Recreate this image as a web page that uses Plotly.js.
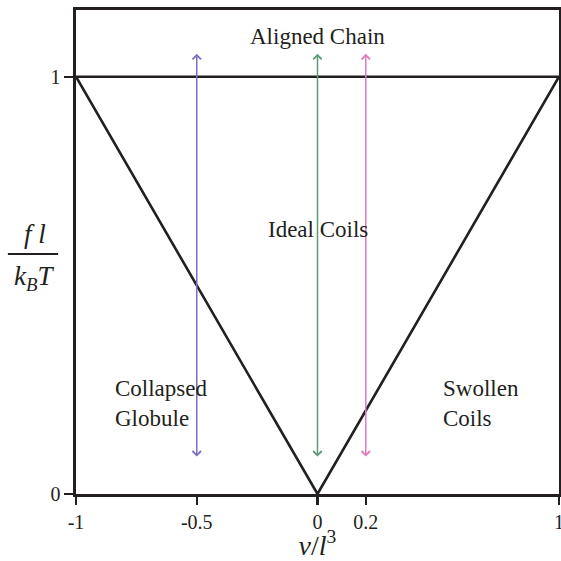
<!DOCTYPE html>
<html><head><meta charset="utf-8">
<script src="https://cdn.plot.ly/plotly-3.0.1.min.js"></script>
<style>html,body{margin:0;padding:0;background:#fff}</style>
</head><body>
<div id="chart" style="width:561px;height:561px"></div>
<script>
// Phase boundary (V shape + horizontal line at 1)
var boundaryX = [-1, 0, 1];
var boundaryY = [1, 0, 1];
var topLineX = [-1, 1];
var topLineY = [1, 1];
// Arrows
var arrowX = [-0.5, 0, 0.2];
var arrowYLow = [0.086, 0.086, 0.086];
var arrowYHigh = [1.055, 1.055, 1.055];
var arrowColors = ['#7a6fc0', '#5b9a72', '#e07ab9'];
// Region labels
var labelText = ['Aligned Chain', 'Ideal Coils', 'Collapsed<br>Globule', 'Swollen<br>Coils'];
var labelX = [0, 0, -0.847, 0.512];
var labelY = [1.096, 0.635, 0.218, 0.218];
var labelAnchor = ['center', 'center', 'left', 'left'];
// Ticks
var xTicks = [-1, -0.5, 0, 0.2, 1];
var xTickText = ['-1', '-0.5', '0', '0.2', '1'];
var yTicks = [0, 1];
var yTickText = ['0', '1'];

var font = 'Liberation Serif, Times New Roman, serif';
var black = '#231f20';

var traces = [
  {x: boundaryX, y: boundaryY, mode: 'lines', line: {color: black, width: 2.6}, hoverinfo: 'skip'},
  {x: topLineX, y: topLineY, mode: 'lines', line: {color: black, width: 2.6}, hoverinfo: 'skip'}
];

var annotations = [];
for (var i = 0; i < arrowX.length; i++) {
  annotations.push({x: arrowX[i], y: arrowYHigh[i], ax: arrowX[i], ay: arrowYLow[i],
    xref: 'x', yref: 'y', axref: 'x', ayref: 'y', showarrow: true, arrowside: 'end+start',
    arrowhead: 4, startarrowhead: 4, arrowsize: 1.1, startarrowsize: 1.1, arrowwidth: 1.5,
    arrowcolor: arrowColors[i], text: ''});
}
for (var j = 0; j < labelText.length; j++) {
  annotations.push({x: labelX[j], y: labelY[j], xref: 'x', yref: 'y', text: labelText[j],
    showarrow: false, align: 'left', xanchor: labelAnchor[j],
    font: {family: font, size: 23, color: black}});
}
// y axis title as a fraction
annotations.push({xref: 'paper', yref: 'paper', x: -0.085, y: 0.503, text: '<i>f l</i>', showarrow: false,
  font: {family: font, size: 27, color: black}, xanchor: 'center', yanchor: 'bottom'});
annotations.push({xref: 'paper', yref: 'paper', x: -0.085, y: 0.486, text: '<i>k<sub>B</sub>T</i>', showarrow: false,
  font: {family: font, size: 27, color: black}, xanchor: 'center', yanchor: 'top'});

var layout = {
  width: 561, height: 561,
  margin: {l: 76, r: 2, t: 10, b: 67},
  paper_bgcolor: '#fff', plot_bgcolor: '#fff',
  showlegend: false,
  xaxis: {range: [-1, 1], tickvals: xTicks, ticktext: xTickText, ticks: 'outside', ticklen: 8, tickwidth: 2.5,
    tickcolor: black, showline: true, linewidth: 2.6, linecolor: black, mirror: true, showgrid: false, zeroline: false,
    ticklabeloverflow: 'allow',
    tickfont: {family: font, size: 20, color: black},
    title: {text: '<i>v</i>/<i>l</i><sup>3</sup>', font: {family: font, size: 28, color: black}, standoff: 4}},
  yaxis: {range: [0, 1.16], tickvals: yTicks, ticktext: yTickText, ticks: 'outside', ticklen: 9, tickwidth: 2.5,
    tickcolor: black, showline: true, linewidth: 2.6, linecolor: black, mirror: true, showgrid: false, zeroline: false,
    tickfont: {family: font, size: 20, color: black}},
  annotations: annotations,
  shapes: [{type: 'line', xref: 'paper', yref: 'paper', x0: -0.141, x1: -0.037, y0: 0.496, y1: 0.496,
    line: {color: black, width: 2}}]
};
Plotly.newPlot('chart', traces, layout, {displayModeBar: false, staticPlot: true});
</script>
</body></html>
